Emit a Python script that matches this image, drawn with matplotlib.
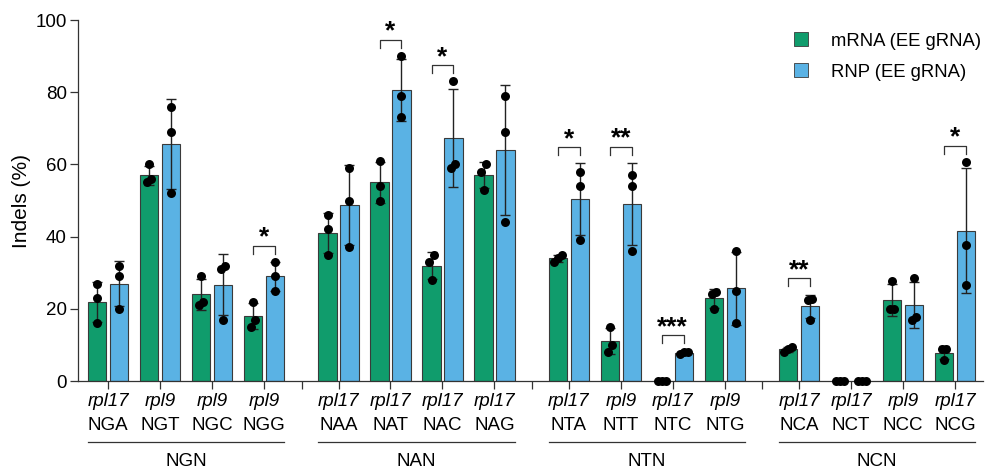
import numpy as np
import matplotlib
matplotlib.use("Agg")
import matplotlib.pyplot as plt
from matplotlib.patches import Patch

plt.rcParams['font.family'] = ['Liberation Sans', 'DejaVu Sans']

groups = ["NGN", "NAN", "NTN", "NCN"]
genes = [["rpl17", "rpl9", "rpl9", "rpl9"],
         ["rpl17", "rpl17", "rpl17", "rpl17"],
         ["rpl17", "rpl9", "rpl17", "rpl9"],
         ["rpl17", "rpl17", "rpl9", "rpl17"]]
pams = [["NGA", "NGT", "NGC", "NGG"],
        ["NAA", "NAT", "NAC", "NAG"],
        ["NTA", "NTT", "NTC", "NTG"],
        ["NCA", "NCT", "NCC", "NCG"]]

# replicate indel values (%)
mrna_pts = [[27, 23, 16], [60, 55, 56], [29, 22, 21], [22, 17, 15],
            [46, 42, 35], [61, 54, 50], [35, 33, 28], [60, 58, 53],
            [33, 35, 34], [15, 10, 8], [0, 0, 0], [24.7, 24, 20],
            [9.5, 8, 8.9], [0, 0, 0], [27.7, 20, 20], [8.9, 8.9, 5.8]]
rnp_pts = [[32, 29, 20], [76, 69, 52], [32, 31, 17], [33, 29, 25],
           [59, 50, 37], [90, 79, 73], [83, 59, 60], [79, 69, 44],
           [58, 54, 39], [57, 54, 36], [7.5, 8, 8], [36, 25, 16],
           [22.7, 22.4, 17], [0, 0, 0], [28.5, 17, 17.7], [60.7, 37.7, 26.6]]

# significance annotations: (category index, label)
sig = [(3, "*"), (5, "*"), (6, "*"), (8, "*"), (9, "**"), (10, "***"),
       (12, "**"), (15, "*")]

series_names = ["mRNA (EE gRNA)", "RNP (EE gRNA)"]
colors = ["#109c6c", "#5ab2e4"]

GROUP_STEP = 4.43
GAP_TICK = 3.72
BAR_W = 0.35
OFF = 0.21
FS = 13.5

fig = plt.figure(figsize=(9.85, 4.71), dpi=100)
ax = fig.add_axes([0.0792, 0.191, 0.919, 0.7665])

xs = []
for g in range(len(groups)):
    for i in range(len(pams[g])):
        xs.append(g * GROUP_STEP + i)
xs = np.array(xs)


def jitter(vals, spacing=0.08, tol=2.5):
    vals = np.asarray(vals, float)
    offs = np.zeros(len(vals))
    order = np.argsort(vals)
    clusters = []
    for idx in order:
        if clusters and abs(vals[idx] - vals[clusters[-1][-1]]) < tol:
            clusters[-1].append(idx)
        else:
            clusters.append([idx])
    for c in clusters:
        n = len(c)
        for k, idx in enumerate(c):
            offs[idx] = (k - (n - 1) / 2) * spacing
    return offs


tops = np.zeros(len(xs))
for s, (pts, col, dx) in enumerate([(mrna_pts, colors[0], -OFF), (rnp_pts, colors[1], OFF)]):
    means = np.array([np.mean(p) for p in pts])
    sds = np.array([np.std(p, ddof=1) for p in pts])
    ax.bar(xs + dx, means, width=BAR_W, color=col, edgecolor="#3a3a3a",
           linewidth=0.8, zorder=2, label=series_names[s])
    for j, (x, p, m, sd) in enumerate(zip(xs, pts, means, sds)):
        if sd > 0:
            ax.errorbar(x + dx, m, yerr=sd, fmt="none", ecolor="#222222",
                        elinewidth=1.0, capsize=3.5, capthick=1.0, zorder=3)
        ax.scatter(x + dx + jitter(p), p, s=42, color="black", zorder=4,
                   clip_on=False, linewidths=0)
        tops[j] = max(tops[j], max(p), m + sd)

for idx, lab in sig:
    top = tops[idx] + 4.5
    x0, x1 = xs[idx] - OFF, xs[idx] + OFF
    ax.plot([x0, x0, x1, x1], [top - 2.2, top, top, top - 2.2],
            color="#333333", lw=0.9, clip_on=False, zorder=5)
    ax.text(xs[idx], top + 0.3, lab, ha="center", va="baseline",
            fontsize=19, fontweight="bold", clip_on=False)

ax.set_ylim(0, 100)
ax.set_xlim(-0.58, 16.83)
ax.set_yticks([0, 20, 40, 60, 80, 100])
ax.tick_params(axis="y", labelsize=FS, length=6, width=0.9, color="#333333", pad=2)
ax.set_ylabel("Indels (%)", fontsize=15)
ax.yaxis.set_label_coords(-0.052, 0.5)

ax.set_xticks(xs)
ax.set_xticklabels([])
ax.set_xticks([g * GROUP_STEP + GAP_TICK for g in range(len(groups) - 1)], minor=True)
ax.tick_params(axis="x", which="both", length=6, width=0.9, color="#333333")

for sp in ["top", "right"]:
    ax.spines[sp].set_visible(False)
for sp in ["left", "bottom"]:
    ax.spines[sp].set_color("#333333")
    ax.spines[sp].set_linewidth(0.9)

tr = ax.get_xaxis_transform()
k = 0
for g in range(len(groups)):
    for i in range(len(pams[g])):
        ax.text(xs[k], -0.058, genes[g][i], transform=tr, ha="center", va="center",
                fontsize=FS, fontstyle="italic")
        ax.text(xs[k], -0.124, pams[g][i], transform=tr, ha="center", va="center",
                fontsize=FS)
        k += 1
    left = g * GROUP_STEP - OFF - BAR_W / 2
    right = g * GROUP_STEP + 3 + OFF + BAR_W / 2
    ax.plot([left, right], [-0.168, -0.168], transform=tr, color="#333333",
            lw=0.9, clip_on=False)
    ax.text((left + right) / 2, -0.222, groups[g], transform=tr, ha="center",
            va="center", fontsize=FS)

handles = [Patch(facecolor=colors[0], edgecolor="#3a3a3a", linewidth=0.6),
           Patch(facecolor=colors[1], edgecolor="#3a3a3a", linewidth=0.6)]
ax.legend(handles, series_names, loc="upper right", bbox_to_anchor=(1.016, 1.012),
          frameon=False, fontsize=13.3, handlelength=0.75, handleheight=0.75,
          handletextpad=1.25, labelspacing=0.75)

fig.savefig("out.png", dpi=100)
